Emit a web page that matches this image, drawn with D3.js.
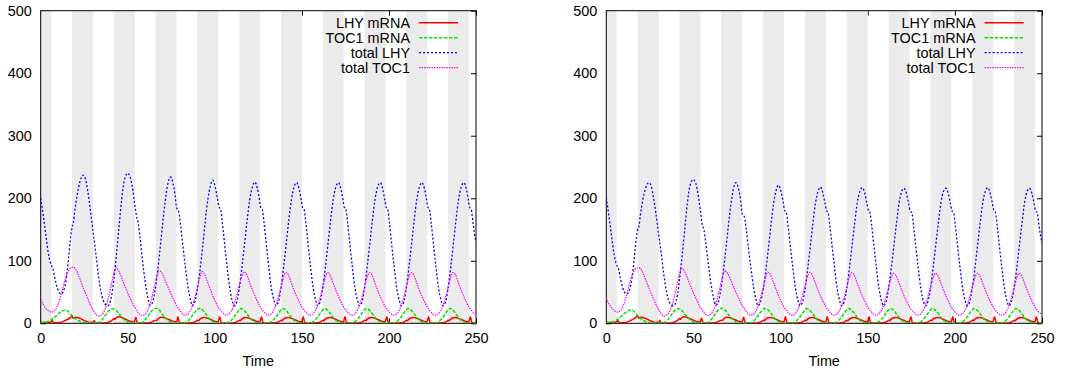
<!DOCTYPE html>
<html>
<head>
<meta charset="utf-8">
<script src="https://cdn.jsdelivr.net/npm/d3@7"></script>
<style>
  body { margin: 0; background: #fff; }
  svg { display: block; }
  text { font-family: "Liberation Sans", Arial, sans-serif; }
</style>
</head>
<body>
<svg id="chart" width="1077" height="373"></svg>
<script>
// dark (night) intervals shaded grey
const darkPeriods = [[0,6],[18,30],[42,54],[66,78],[90,102],[114,126],[138,150],[162,174],[186,198],[210,222],[234,246]];
const xTicks = [0,50,100,150,200,250];
const yTicks = [0,100,200,300,400,500];
const seriesNames = ["LHY mRNA","TOC1 mRNA","total LHY","total TOC1"];

// ---- left panel ----
const lhyMrnaA = [[0,1.5],[2,1.2],[4,1.2],[5.6,1.5],[6.5,4.5],[7.3,1.5],[9,1],[11,1.2],[12.5,2.5],[14,4.5],[15.5,6.5],[17,9],[18,11.5],[18.6,8],[19.5,9.8],[21,9.2],[22.5,7.8],[24,5.8],[25.5,3.8],[27,2.2],[28.5,1.3],[30,1.2],[30.7,4.5],[31.4,1],[33,0.5],[35,0.4],[37,0.5],[38.5,1.2],[40,3],[41.3,5.5],[42,7.5],[42.6,6.5],[43.5,9.5],[45,10.5],[46.5,9.2],[48,7.5],[49.5,5.5],[51,3.8],[52.5,2.5],[53.8,1.6],[54.6,9.5],[55.4,1.5],[56.5,0.5],[58.5,0.3],[61,0.4],[63,1.2],[64.5,3.2],[66,5],[66.6,4.5],[67.5,7.5],[69,9.8],[70.5,9.2],[72,7.8],[73.5,6],[75,4.3],[76.5,2.8],[78,1.6],[78.8,10.5],[79.6,1.5],[80.5,0.5],
  [83,0.3],[86,0.6],[87.5,1.3],[89,2.8],[90,4.8],[90.6,4.2],[91.5,6.8],[93,8.8],[94.5,9.3],[96,7.8],[97.5,6],[99,4.4],[100.5,2.8],[101.8,1.7],[102.8,10.5],[103.6,1.5],[104.5,0.5],
  [107,0.3],[110,0.6],[111.5,1.3],[113,2.8],[114,4.8],[114.6,4.2],[115.5,6.8],[117,8.8],[118.5,9.3],[120,7.8],[121.5,6],[123,4.4],[124.5,2.8],[125.8,1.7],[126.8,10.5],[127.6,1.5],[128.5,0.5],
  [131,0.3],[134,0.6],[135.5,1.3],[137,2.8],[138,4.8],[138.6,4.2],[139.5,6.8],[141,8.8],[142.5,9.3],[144,7.8],[145.5,6],[147,4.4],[148.5,2.8],[149.8,1.7],[150.8,10.5],[151.6,1.5],[152.5,0.5],
  [155,0.3],[158,0.6],[159.5,1.3],[161,2.8],[162,4.8],[162.6,4.2],[163.5,6.8],[165,8.8],[166.5,9.3],[168,7.8],[169.5,6],[171,4.4],[172.5,2.8],[173.8,1.7],[174.8,10.5],[175.6,1.5],[176.5,0.5],
  [179,0.3],[182,0.6],[183.5,1.3],[185,2.8],[186,4.8],[186.6,4.2],[187.5,6.8],[189,8.8],[190.5,9.3],[192,7.8],[193.5,6],[195,4.4],[196.5,2.8],[197.8,1.7],[198.8,10.5],[199.6,1.5],[200.5,0.5],
  [203,0.3],[206,0.6],[207.5,1.3],[209,2.8],[210,4.8],[210.6,4.2],[211.5,6.8],[213,8.8],[214.5,9.3],[216,7.8],[217.5,6],[219,4.4],[220.5,2.8],[221.8,1.7],[222.8,10.5],[223.6,1.5],[224.5,0.5],
  [227,0.3],[230,0.6],[231.5,1.3],[233,2.8],[234,4.8],[234.6,4.2],[235.5,6.8],[237,8.8],[238.5,9.3],[240,7.8],[241.5,6],[243,4.4],[244.5,2.8],[245.8,1.7],[246.8,10.5],[247.6,1.5],[248.5,0.5],[250,0.4]];

const tocMrnaA = [[0,1.5],[2,1.3],[4,2.5],[5.5,4.5],[7,7.5],[8.5,11],[10,15],[11.5,18.5],[13,20.5],[14.3,21.5],[15.5,20],[17,15.5],[18.5,10.5],[20,7],[21.5,4.5],[23,2.5],[24.5,1.3],[26,0.6],[28,0.3],[30,0.3],[32,0.6],[33.5,1.8],[35,5],[36.5,10],[38,16],[39.5,21],[41,23.2],[42,23],[43.5,20],[45,15],[46.5,10],[48,5.5],[49.5,2.5],[51,1.1],[53,0.4],[55,0.2],[57,0.5],[58.5,1.8],[60,5.5],[61.5,11],[63,17],[64.5,22],[66,24],[67,23.5],[68.5,20],[70,14],[71.5,9],[73,4.5],[74.5,2],[76,0.8],[78,0.3],[80,0.2],[82,0.5],[83.5,1.8],[85,5],[86.5,10],[88,16],[89.5,21],[90.8,23.8],[92,23.2],[93.5,19.5],[95,14],[96.5,8.5],[98,4.5],[99.5,2],[101,0.8],[103,0.3],[105,0.2],
  [106.5,0.4],[108,1.8],[109.5,5],[111,10],[112.5,16],[114,21.5],[115,23.5],[116.2,22.5],[117.7,18],[119.2,12.5],[120.7,7],[122.2,3.5],[123.7,1.5],[125.2,0.6],[127,0.3],[129,0.2],
  [130.5,0.4],[132,1.8],[133.5,5],[135,10],[136.5,16],[138,21.5],[139,23.5],[140.2,22.5],[141.7,18],[143.2,12.5],[144.7,7],[146.2,3.5],[147.7,1.5],[149.2,0.6],[151,0.3],[153,0.2],
  [154.5,0.4],[156,1.8],[157.5,5],[159,10],[160.5,16],[162,21.5],[163,23.5],[164.2,22.5],[165.7,18],[167.2,12.5],[168.7,7],[170.2,3.5],[171.7,1.5],[173.2,0.6],[175,0.3],[177,0.2],
  [178.5,0.4],[180,1.8],[181.5,5],[183,10],[184.5,16],[186,21.5],[187,23.5],[188.2,22.5],[189.7,18],[191.2,12.5],[192.7,7],[194.2,3.5],[195.7,1.5],[197.2,0.6],[199,0.3],[201,0.2],
  [202.5,0.4],[204,1.8],[205.5,5],[207,10],[208.5,16],[210,21.5],[211,23.5],[212.2,22.5],[213.7,18],[215.2,12.5],[216.7,7],[218.2,3.5],[219.7,1.5],[221.2,0.6],[223,0.3],[225,0.2],
  [226.5,0.4],[228,1.8],[229.5,5],[231,10],[232.5,16],[234,21.5],[235,23.5],[236.2,22.5],[237.7,18],[239.2,12.5],[240.7,7],[242.2,3.5],[243.7,1.5],[245.2,0.6],[247,0.3],[249,0.2],[250,0.3]];

const lhyTotalA = [[0,200],[1.5,172],[3,140],[4.5,110],[5.5,98],[6.3,92],[7,88],[8,74],[9.5,57],[11,48],[12,47],[13,51],[14.5,68],[16,104],[17.3,140],[18,154],[18.7,160],[19.5,178],[21,206],[22.5,226],[24.4,237],
  [25.8,230],[27,212],[28.5,182],[30,148],[31.5,115],[33,80],[34.5,52],[36,36],[37.5,29],[38.5,28],[39.5,31],[40.8,45],[42,70],[43.5,110],[45,155],[46.5,198],[48,228],[50,240],
  [51.5,233],[53,212],[54,190],[55,172],[56,160],[57,138],[58.5,100],[60,66],[61.5,42],[62.8,29],[64,32],[65.5,50],[67,80],[68.5,118],[70,158],[71.5,195],[73,223],[74.5,234],
  [76,224],[77.2,205],[78,186],[79.3,178],[80.3,158],[81.5,128],[83,92],[84.5,60],[86,38],[87,28],[88.5,34],[90,55],[91.5,85],[93,122],[94.5,163],[96,198],[97.5,220],[98.8,229],
  [100.2,218],[101.5,200],[102.3,187],[103.4,182],[104.3,162],[105.5,130],[107,92],[108.5,58],[110,36],[111.2,28],[112.5,33],[114,55],[115.5,88],[117,125],[118.5,163],[120,197],[121.5,217],[123,226],
  [124.5,215],[125.7,197],[126.3,186],[127.3,182],[128.3,160],[129.5,128],[131,90],[132.5,56],[134,36],[135,28],[136.5,34],[138,57],[139.5,90],[141,127],[142.5,165],[144,198],[145.5,218],[147,225],
  [148.5,214],[149.7,196],[150.3,186],[151.3,182],[152.3,160],[153.5,128],[155,90],[156.5,56],[158,36],[159,28],[160.5,34],[162,57],[163.5,90],[165,127],[166.5,165],[168,198],[169.5,218],[171,225],
  [172.5,214],[173.7,196],[174.3,186],[175.3,182],[176.3,160],[177.5,128],[179,90],[180.5,56],[182,36],[183,28],[184.5,34],[186,57],[187.5,90],[189,127],[190.5,165],[192,198],[193.5,218],[195,225],
  [196.5,214],[197.7,196],[198.3,186],[199.3,182],[200.3,160],[201.5,128],[203,90],[204.5,56],[206,36],[207,28],[208.5,34],[210,57],[211.5,90],[213,127],[214.5,165],[216,198],[217.5,218],[219,225],
  [220.5,214],[221.7,196],[222.3,186],[223.3,182],[224.3,160],[225.5,128],[227,90],[228.5,56],[230,36],[231,28],[232.5,34],[234,57],[235.5,90],[237,127],[238.5,165],[240,198],[241.5,218],[243,225],
  [244.5,214],[245.7,196],[246.3,186],[247.3,182],[248.3,160],[249.2,142],[250,130]];

const tocTotalA = [[0,38],[1.5,30],[3,24],[4.5,20],[6.3,18],[7.5,19],[9,24],[10.5,34],[12,49],[13.5,65],[15,78],[16.5,86],[18.7,90],
  [20.2,86],[21.7,77],[23.2,66],[24.7,55],[26.2,45],[27.7,35],[29.2,26],[30.7,18.5],[32,13.5],[33.2,11.5],[34.5,12.5],[36,17],[37.5,27],[39,42],[40.5,60],[42,80],[43.2,89],
  [44.7,84],[46.2,75],[47.7,64],[49.2,54],[50.7,44],[52.2,35],[53.7,27],[55.2,20],[56.7,15],[58,12.5],[59.5,13.5],[61,18],[62.5,28],[64,43],[65.5,61],[67,78],[68,85],
  [69.5,81],[71,72],[72.5,62],[74,52],[75.5,43],[77,34],[78.5,26],[80,20],[81.2,16],[82.5,13],[84,13.5],[85.5,18],[87,27],[88.5,41],[90,57],[91.5,74],[92.6,83],
  [94.1,79],[95.8,66],[97.3,55],[98.8,44],[100.3,35],[101.8,27],[103.3,20.5],[104.8,16],[106.4,13],[107.8,14],[109.3,19],[110.8,28],[112.3,42],[113.8,58],[115.3,74],[116.8,82],
  [118.3,78],[120,65],[121.5,54],[123,44],[124.5,35],[126,27],[127.5,20.5],[129,16],[130.6,13],[132,14],[133.5,19],[135,28],[136.5,42],[138,58],[139.5,74],[140.8,81],
  [142.3,77],[144,64],[145.5,53],[147,43],[148.5,34],[150,26],[151.5,20],[153,15.5],[154.6,13],[156,14],[157.5,19],[159,28],[160.5,42],[162,58],[163.5,74],[164.8,81],
  [166.3,77],[168,64],[169.5,53],[171,43],[172.5,34],[174,26],[175.5,20],[177,15.5],[178.6,13],[180,14],[181.5,19],[183,28],[184.5,42],[186,58],[187.5,74],[188.8,81],
  [190.3,77],[192,64],[193.5,53],[195,43],[196.5,34],[198,26],[199.5,20],[201,15.5],[202.6,13],[204,14],[205.5,19],[207,28],[208.5,42],[210,58],[211.5,74],[212.8,81],
  [214.3,77],[216,64],[217.5,53],[219,43],[220.5,34],[222,26],[223.5,20],[225,15.5],[226.6,13],[228,14],[229.5,19],[231,28],[232.5,42],[234,58],[235.5,74],[236.8,81],
  [238.3,77],[240,64],[241.5,53],[243,43],[244.5,34],[246,26],[247.5,20],[249,16],[250,14.5]];

// ---- right panel ----
const lhyMrnaB = [[0,1.5],[2,1.2],[4,1.2],[5.6,1.5],[6.5,4.5],[7.3,1.5],[9,1],[11,1.2],[12.5,2.5],[14,4.5],[15.5,6.8],[17,9.5],[18,12],[18.6,8],[19.5,9.8],[21,9.2],[22.5,7.8],[24,5.8],[25.5,3.8],[27,2.2],[28.5,1.3],[30,1.2],[30.7,4.8],[31.4,1],[33,0.5],[35,0.4],[37,0.5],[38.5,1.2],[40,3],[41.3,5.5],[42,7.5],[42.6,6.5],[43.5,9.5],[45,10.3],[46.5,9.2],[48,7.5],[49.5,5.5],[51,3.8],[52.5,2.5],[53.8,1.6],[54.6,8.5],[55.4,1.5],[56.5,0.5],[58.5,0.3],[61,0.4],[63,1.2],[64.5,3.2],[66,5],[66.6,4.5],[67.5,7.5],[69,9.6],[70.5,9.2],[72,7.8],[73.5,6],[75,4.3],[76.5,2.8],[78,1.6],[78.8,10],[79.6,1.5],[80.5,0.5],
  [83,0.3],[86,0.6],[87.5,1.3],[89,2.8],[90,4.8],[90.6,4.2],[91.5,6.8],[93,8.8],[94.5,9.2],[96,7.8],[97.5,6],[99,4.4],[100.5,2.8],[101.8,1.7],[102.8,10.5],[103.6,1.5],[104.5,0.5],
  [107,0.3],[110,0.6],[111.5,1.3],[113,2.8],[114,4.8],[114.6,4.2],[115.5,6.8],[117,8.8],[118.5,9.2],[120,7.8],[121.5,6],[123,4.4],[124.5,2.8],[125.8,1.7],[126.8,10.5],[127.6,1.5],[128.5,0.5],
  [131,0.3],[134,0.6],[135.5,1.3],[137,2.8],[138,4.8],[138.6,4.2],[139.5,6.8],[141,8.8],[142.5,9.2],[144,7.8],[145.5,6],[147,4.4],[148.5,2.8],[149.8,1.7],[150.8,10.5],[151.6,1.5],[152.5,0.5],
  [155,0.3],[158,0.6],[159.5,1.3],[161,2.8],[162,4.8],[162.6,4.2],[163.5,6.8],[165,8.8],[166.5,9.2],[168,7.8],[169.5,6],[171,4.4],[172.5,2.8],[173.8,1.7],[174.8,10.5],[175.6,1.5],[176.5,0.5],
  [179,0.3],[182,0.6],[183.5,1.3],[185,2.8],[186,4.8],[186.6,4.2],[187.5,6.8],[189,8.8],[190.5,9.2],[192,7.8],[193.5,6],[195,4.4],[196.5,2.8],[197.8,1.7],[198.8,10.5],[199.6,1.5],[200.5,0.5],
  [203,0.3],[206,0.6],[207.5,1.3],[209,2.8],[210,4.8],[210.6,4.2],[211.5,6.8],[213,8.8],[214.5,9.2],[216,7.8],[217.5,6],[219,4.4],[220.5,2.8],[221.8,1.7],[222.8,10.5],[223.6,1.5],[224.5,0.5],
  [227,0.3],[230,0.6],[231.5,1.3],[233,2.8],[234,4.8],[234.6,4.2],[235.5,6.8],[237,8.8],[238.5,9.2],[240,7.8],[241.5,6],[243,4.4],[244.5,2.8],[245.8,1.7],[246.8,10.5],[247.6,1.5],[248.5,0.5],[250,0.4]];

const tocMrnaB = [[0,1.5],[2,1.3],[4,2.5],[5.5,4.5],[7,7.5],[8.5,11],[10,15],[11.5,18.5],[13,20.5],[14.3,21.2],[15.5,20],[17,15.5],[18.5,10.5],[20,7],[21.5,4.5],[23,2.5],[24.5,1.3],[26,0.6],[28,0.3],[30,0.3],[32,0.6],[33.5,1.8],[35,5],[36.5,10],[38,16],[39.5,21],[41,23.5],[42,23.2],[43.5,20],[45,15],[46.5,10],[48,5.5],[49.5,2.5],[51,1.1],[53,0.4],[55,0.2],[57,0.5],[58.5,1.8],[60,5.5],[61.5,11],[63,17],[64.5,22],[66,24],[67,23.5],[68.5,20],[70,14],[71.5,9],[73,4.5],[74.5,2],[76,0.8],[78,0.3],[80,0.2],[82,0.5],[83.5,1.8],[85,5],[86.5,10],[88,16],[89.5,21],[90.8,23.8],[92,23.2],[93.5,19.5],[95,14],[96.5,8.5],[98,4.5],[99.5,2],[101,0.8],[103,0.3],[105,0.2],
  [106.5,0.4],[108,1.8],[109.5,5],[111,10],[112.5,16],[114,21.5],[115,23.5],[116.2,22.5],[117.7,18],[119.2,12.5],[120.7,7],[122.2,3.5],[123.7,1.5],[125.2,0.6],[127,0.3],[129,0.2],
  [130.5,0.4],[132,1.8],[133.5,5],[135,10],[136.5,16],[138,21.5],[139,23.5],[140.2,22.5],[141.7,18],[143.2,12.5],[144.7,7],[146.2,3.5],[147.7,1.5],[149.2,0.6],[151,0.3],[153,0.2],
  [154.5,0.4],[156,1.8],[157.5,5],[159,10],[160.5,16],[162,21.5],[163,23.5],[164.2,22.5],[165.7,18],[167.2,12.5],[168.7,7],[170.2,3.5],[171.7,1.5],[173.2,0.6],[175,0.3],[177,0.2],
  [178.5,0.4],[180,1.8],[181.5,5],[183,10],[184.5,16],[186,21.5],[187,23.5],[188.2,22.5],[189.7,18],[191.2,12.5],[192.7,7],[194.2,3.5],[195.7,1.5],[197.2,0.6],[199,0.3],[201,0.2],
  [202.5,0.4],[204,1.8],[205.5,5],[207,10],[208.5,16],[210,21.5],[211,23.5],[212.2,22.5],[213.7,18],[215.2,12.5],[216.7,7],[218.2,3.5],[219.7,1.5],[221.2,0.6],[223,0.3],[225,0.2],
  [226.5,0.4],[228,1.8],[229.5,5],[231,10],[232.5,16],[234,21.5],[235,23.5],[236.2,22.5],[237.7,18],[239.2,12.5],[240.7,7],[242.2,3.5],[243.7,1.5],[245.2,0.6],[247,0.3],[249,0.2],[250,0.3]];

const lhyTotalB = [[0,201],[1.5,172],[3,140],[4.5,110],[5.5,97],[6.3,91],[7,87],[8,73],[9.5,56],[11,48],[12,47],[13,51],[14.5,68],[16,103],[17.3,138],[18,150],[18.8,156],[19.5,172],[21,198],[22.5,216],[24.4,225],
  [25.8,219],[27,202],[28.5,175],[30,143],[31.5,112],[33,78],[34.5,51],[36,35],[37.5,29],[38.5,28],[39.5,31],[40.8,45],[42,70],[43.5,108],[45,150],[46.5,192],[48,220],[49.8,230],
  [51.3,224],[52.8,204],[54,180],[55,158],[56,150],[57,130],[58.5,96],[60,64],[61.5,41],[62.8,29],[64,32],[65.5,50],[67,80],[68.5,116],[70,155],[71.5,190],[73,216],[74.3,225],
  [75.8,216],[77,198],[78,175],[79.3,170],[80.3,150],[81.5,122],[83,88],[84.5,58],[86,37],[87,28],[88.5,34],[90,54],[91.5,84],[93,120],[94.5,158],[96,192],[97.5,213],[98.7,221],
  [100.2,211],[101.5,194],[102.3,181],[103.4,176],[104.3,156],[105.5,126],[107,90],[108.5,57],[110,36],[111.2,28],[112.5,33],[114,54],[115.5,86],[117,122],[118.5,159],[120,192],[121.5,211],[122.8,218],
  [124.3,208],[125.5,192],[126.3,181],[127.3,177],[128.3,156],[129.5,125],[131,88],[132.5,55],[134,35],[135,28],[136.5,34],[138,56],[139.5,88],[141,124],[142.5,160],[144,193],[145.5,211],[146.8,217],
  [148.3,208],[149.5,192],[150.3,181],[151.3,177],[152.3,156],[153.5,125],[155,88],[156.5,55],[158,35],[159,28],[160.5,34],[162,56],[163.5,88],[165,124],[166.5,160],[168,193],[169.5,211],[170.8,216],
  [172.3,207],[173.5,191],[174.3,180],[175.3,177],[176.3,156],[177.5,125],[179,88],[180.5,55],[182,35],[183,28],[184.5,34],[186,56],[187.5,88],[189,124],[190.5,160],[192,193],[193.5,211],[194.8,216],
  [196.3,207],[197.5,191],[198.3,180],[199.3,177],[200.3,156],[201.5,125],[203,88],[204.5,55],[206,35],[207,28],[208.5,34],[210,56],[211.5,88],[213,124],[214.5,160],[216,193],[217.5,211],[218.8,217],
  [220.3,208],[221.5,192],[222.3,181],[223.3,177],[224.3,156],[225.5,125],[227,88],[228.5,55],[230,35],[231,28],[232.5,34],[234,56],[235.5,88],[237,124],[238.5,160],[240,193],[241.5,211],[242.8,216],
  [244.3,207],[245.5,191],[246.3,180],[247.3,177],[248.3,156],[249.2,140],[250,128]];

const tocTotalB = [[0,40],[1.5,31],[3,25],[4.5,20.5],[6.3,18],[7.5,19],[9,24],[10.5,34],[12,49],[13.5,65],[15,78],[16.5,86],[18.7,89],
  [20.2,85],[21.7,76],[23.2,65],[24.7,55],[26.2,45],[27.7,35],[29.2,26],[30.7,18.5],[32,13.5],[33.2,11.5],[34.5,12.5],[36,17],[37.5,27],[39,42],[40.5,60],[42,80],[43.2,88],
  [44.7,84],[46.2,75],[47.7,64],[49.2,54],[50.7,44],[52.2,35],[53.7,27],[55.2,20],[56.7,15],[58,12.5],[59.5,13.5],[61,18],[62.5,28],[64,43],[65.5,61],[67,78],[68,84],
  [69.5,80],[71,72],[72.5,62],[74,52],[75.5,43],[77,34],[78.5,26],[80,20],[81.2,16],[82.5,13],[84,13.5],[85.5,18],[87,27],[88.5,41],[90,57],[91.5,74],[92.6,82],
  [94.1,78],[95.8,66],[97.3,55],[98.8,44],[100.3,35],[101.8,27],[103.3,20.5],[104.8,16],[106.4,13],[107.8,14],[109.3,19],[110.8,28],[112.3,42],[113.8,58],[115.3,74],[116.8,81],
  [118.3,77],[120,64],[121.5,53],[123,43],[124.5,34],[126,26],[127.5,20],[129,15.5],[130.6,13],[132,14],[133.5,19],[135,28],[136.5,42],[138,58],[139.5,74],[140.8,81],
  [142.3,77],[144,64],[145.5,53],[147,43],[148.5,34],[150,26],[151.5,20],[153,15.5],[154.6,13],[156,14],[157.5,19],[159,28],[160.5,42],[162,58],[163.5,73],[164.8,80],
  [166.3,76],[168,64],[169.5,53],[171,43],[172.5,34],[174,26],[175.5,20],[177,15.5],[178.6,13],[180,14],[181.5,19],[183,28],[184.5,42],[186,58],[187.5,73],[188.8,80],
  [190.3,76],[192,64],[193.5,53],[195,43],[196.5,34],[198,26],[199.5,20],[201,15.5],[202.6,13],[204,14],[205.5,19],[207,28],[208.5,42],[210,58],[211.5,73],[212.8,80],
  [214.3,76],[216,64],[217.5,53],[219,43],[220.5,34],[222,26],[223.5,20],[225,15.5],[226.6,13],[228,14],[229.5,19],[231,28],[232.5,42],[234,58],[235.5,73],[236.8,80],
  [238.3,76],[240,64],[241.5,53],[243,43],[244.5,34],[246,26],[247.5,20],[249,16],[250,14.5]];

const panels = [
  { left: 40.7, right: 476, data: [lhyMrnaA, tocMrnaA, lhyTotalA, tocTotalA] },
  { left: 606.3, right: 1042, data: [lhyMrnaB, tocMrnaB, lhyTotalB, tocTotalB] }
];

const styles = [
  { color: "#ff0000", width: 1.5, dash: null },
  { color: "#00e600", width: 1.5, dash: "3.5,1.5" },
  { color: "#0000ff", width: 1.3, dash: "2,2" },
  { color: "#ff00ff", width: 1.2, dash: "1.5,1" }
];

const plotTop = 10.7, plotBottom = 323.3;
const fontSize = "14.4px";
const svg = d3.select("#chart");

panels.forEach((p, pi) => {
  const x = d3.scaleLinear().domain([0, 250]).range([p.left, p.right]);
  const y = d3.scaleLinear().domain([0, 500]).range([plotBottom, plotTop]);
  const g = svg.append("g");

  // Axes, ticks pointing inward (mirrored on top/right)
  const ax = [
    g.append("g").attr("transform", `translate(${p.left},0)`)
      .call(d3.axisLeft(y).tickValues(yTicks).tickSize(-5).tickPadding(9)),
    g.append("g").attr("transform", `translate(${p.right},0)`)
      .call(d3.axisRight(y).tickValues(yTicks).tickSize(-5).tickFormat("")),
    g.append("g").attr("transform", `translate(0,${plotBottom})`)
      .call(d3.axisBottom(x).tickValues(xTicks).tickSize(-5).tickPadding(9.5)),
    g.append("g").attr("transform", `translate(0,${plotTop})`)
      .call(d3.axisTop(x).tickValues(xTicks).tickSize(-5).tickFormat(""))
  ];
  ax.forEach(a => {
    a.select(".domain").remove();
    a.selectAll("text").attr("font-size", fontSize).attr("font-family", '"Liberation Sans", Arial, sans-serif').attr("fill", "#000");
    a.selectAll("line").attr("stroke", "#000");
  });

  // Night shading
  g.append("g").selectAll("rect")
    .data(darkPeriods).enter().append("rect")
    .attr("x", d => x(d[0]))
    .attr("width", d => x(d[1]) - x(d[0]))
    .attr("y", plotTop).attr("height", plotBottom - plotTop)
    .attr("fill", "#ebebeb");

  // Border
  g.append("rect")
    .attr("x", p.left).attr("y", plotTop)
    .attr("width", p.right - p.left).attr("height", plotBottom - plotTop)
    .attr("fill", "none").attr("stroke", "#000").attr("stroke-width", 1);

  const clipId = "clip" + pi;
  g.append("clipPath").attr("id", clipId).append("rect")
    .attr("x", p.left).attr("y", plotTop - 1)
    .attr("width", p.right - p.left).attr("height", plotBottom - plotTop + 1);

  const line = d3.line()
    .x(d => x(d[0]))
    .y(d => y(d[1]))
    .curve(d3.curveMonotoneX);

  const lines = g.append("g").attr("clip-path", `url(#${clipId})`);
  p.data.forEach((s, i) => {
    lines.append("path")
      .datum(s)
      .attr("fill", "none")
      .attr("stroke", styles[i].color)
      .attr("stroke-width", styles[i].width)
      .attr("stroke-dasharray", styles[i].dash)
      .attr("d", line);
  });

  // Key
  const key = g.append("g");
  seriesNames.forEach((name, i) => {
    const ky = 22.7 + i * 15;
    key.append("text")
      .attr("x", p.left + 369.3).attr("y", ky + 5)
      .attr("text-anchor", "end")
      .attr("font-size", fontSize)
      .text(name);
    key.append("line")
      .attr("x1", p.left + 378.3).attr("x2", p.left + 417.3)
      .attr("y1", ky).attr("y2", ky)
      .attr("stroke", styles[i].color)
      .attr("stroke-width", styles[i].width)
      .attr("stroke-dasharray", styles[i].dash);
  });

  // Axis title
  g.append("text")
    .attr("x", (p.left + p.right) / 2).attr("y", 366)
    .attr("text-anchor", "middle")
    .attr("font-size", fontSize)
    .text("Time");
});
</script>
</body>
</html>
